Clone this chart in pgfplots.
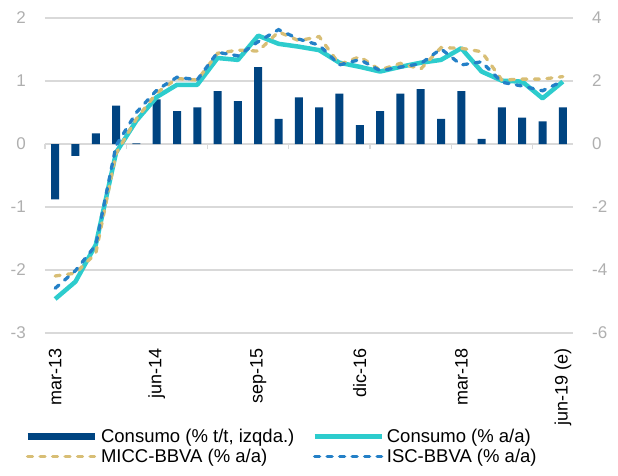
\documentclass[border=0pt]{standalone}
\usepackage{fontspec}
\setmainfont{Liberation Sans}
\usepackage{pgfplots}
\pgfplotsset{compat=1.18}
\definecolor{navy}{RGB}{0,68,129}
\definecolor{aqua}{RGB}{45,204,205}
\definecolor{tan}{RGB}{216,190,117}
\definecolor{dblue}{RGB}{36,128,199}
\definecolor{gridgray}{RGB}{217,217,217}
\definecolor{tickgray}{RGB}{175,175,175}
\begin{document}
\begin{tikzpicture}
\path[use as bounding box] (-45pt,-142pt) rectangle (573pt,333pt);
% left axis: bars
\begin{axis}[
  at={(0pt,0pt)}, anchor=south west,
  scale only axis, width=528pt, height=315pt,
  xmin=-0.5, xmax=25.5, ymin=-3, ymax=2,
  ytick={-3,-2,-1,0,1,2},
  xtick={0,5,10,15,20,25},
  xticklabels={mar-13,jun-14,sep-15,dic-16,mar-18,jun-19 (e)},
  xticklabel style={rotate=90, anchor=east, inner sep=0pt, font=\fontsize{18}{18}\selectfont},
  xticklabel shift=15pt,
  yticklabel style={inner sep=0pt, text=tickgray, font=\fontsize{17}{17}\selectfont},
  yticklabel shift=19pt,
  /pgf/number format/assume math mode=true,
  axis line style={draw=none},
  major tick length=0pt,
  ymajorgrids, grid style={color=gridgray, line width=1.2pt},
  clip=false,
]
\addplot[ybar, bar width=8pt, fill=navy, draw=none] coordinates {
(0,-0.88) (1,-0.19) (2,0.17) (3,0.61) (4,0.01) (5,0.71) (6,0.52) (7,0.58)
(8,0.84) (9,0.68) (10,1.22) (11,0.40) (12,0.74) (13,0.58) (14,0.80) (15,0.30)
(16,0.52) (17,0.80) (18,0.87) (19,0.40) (20,0.84) (21,0.08) (22,0.58) (23,0.42)
(24,0.36) (25,0.58)};
\end{axis}
% small tick marks on the zero line
\begin{axis}[
  at={(0pt,0pt)}, anchor=south west,
  scale only axis, width=528pt, height=315pt,
  xmin=-0.5, xmax=25.5, ymin=-3, ymax=2,
  axis x line=middle, axis y line=none,
  axis line style={draw=none},
  xtick={-0.5,3.5,7.5,11.5,15.5,19.5,23.5},
  xticklabels={},
  xtick align=outside,
  major tick length=5pt,
  tick style={color=gridgray, line width=1.2pt},
]
\addplot[draw=none] coordinates {(0,0)};
\end{axis}
% right axis: lines
\begin{axis}[
  at={(0pt,0pt)}, anchor=south west,
  scale only axis, width=528pt, height=315pt,
  xmin=-0.5, xmax=25.5, ymin=-6, ymax=4,
  ytick={-6,-4,-2,0,2,4},
  xtick=\empty,
  yticklabel pos=right,
  yticklabel style={inner sep=0pt, text=tickgray, font=\fontsize{17}{17}\selectfont},
  yticklabel shift=19pt,
  /pgf/number format/assume math mode=true,
  axis line style={draw=none},
  major tick length=0pt,
  clip=false,
  legend columns=2,
  legend image code/.code={\draw[#1] (0pt,0pt) -- (67pt,0pt);},
  legend style={at={(-0.040,-0.298)}, anchor=north west, draw=none, fill=none,
    inner sep=0pt, font=\fontsize{18.5}{18.5}\selectfont, row sep=1pt,
    nodes={inner xsep=3pt},
    /tikz/every even column/.append style={column sep=15pt}},
  legend cell align=left,
]
\addlegendimage{line width=7pt, color=navy}
\addlegendentry{Consumo (\% t/t, izqda.)}
\addplot[color=aqua, line width=4.5pt, line join=round] coordinates {
(0,-4.92) (1,-4.37) (2,-3.2) (3,-0.27) (4,0.74) (5,1.49) (6,1.88) (7,1.88)
(8,2.73) (9,2.67) (10,3.44) (11,3.18) (12,3.09) (13,2.98) (14,2.58) (15,2.45)
(16,2.30) (17,2.45) (18,2.58) (19,2.67) (20,3.04) (21,2.30) (22,2.01) (23,1.98)
(24,1.45) (25,1.98)};
\addlegendentry{Consumo (\% a/a)}
\addplot[color=tan, line width=3.3pt, line cap=round, dash pattern=on 5pt off 7.5pt] coordinates {
(0,-4.19) (1,-4.10) (2,-3.47) (3,-0.3) (4,0.8) (5,1.62) (6,2.08) (7,2.03)
(8,2.88) (9,2.98) (10,2.95) (11,3.56) (12,3.28) (13,3.41) (14,2.53) (15,2.77)
(16,2.35) (17,2.56) (18,2.38) (19,3.06) (20,3.04) (21,2.93) (22,2.03) (23,2.06)
(24,2.06) (25,2.14)};
\addlegendentry{MICC-BBVA (\% a/a)}
\addplot[color=dblue, line width=3.3pt, line cap=round, dash pattern=on 5pt off 7.5pt] coordinates {
(0,-4.58) (1,-4.02) (2,-3.21) (3,-0.05) (4,1.0) (5,1.71) (6,2.12) (7,2.04)
(8,2.91) (9,2.80) (10,3.25) (11,3.63) (12,3.33) (13,3.14) (14,2.51) (15,2.68)
(16,2.33) (17,2.44) (18,2.55) (19,3.02) (20,2.51) (21,2.61) (22,1.96) (23,1.84)
(24,1.69) (25,2.0)};
\addlegendentry{ISC-BBVA (\% a/a)}
\end{axis}
\end{tikzpicture}
\end{document}
